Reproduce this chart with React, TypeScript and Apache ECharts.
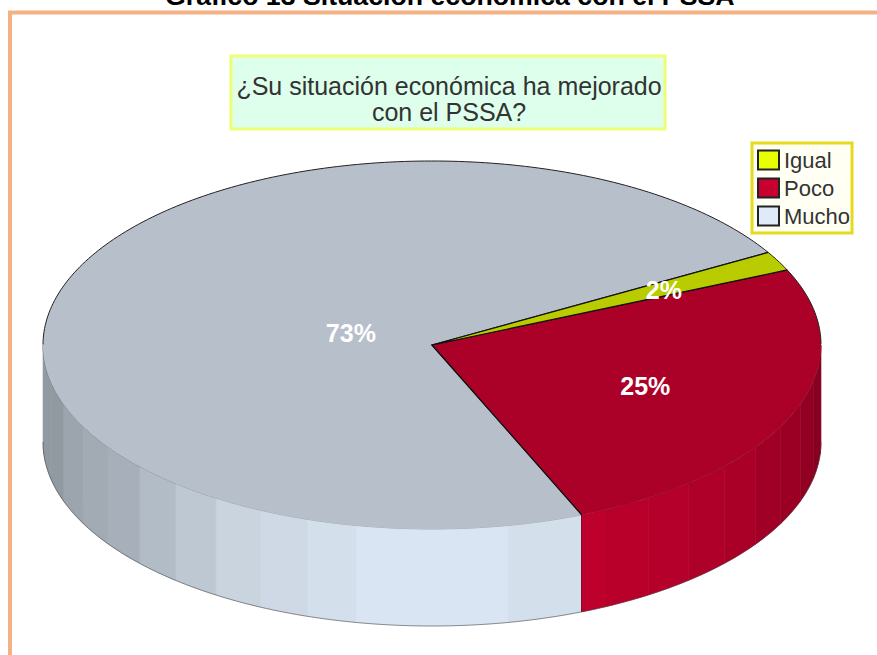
import React, { useEffect, useRef } from "react";
import * as echarts from "echarts";

const categories = ["Igual", "Poco", "Mucho"];
const shares = [1.7, 25.4, 72.9];
const percentLabels = ["2%", "25%", "73%"];
const legendColors = ["#E7FF00", "#C8002F", "#DFEBF8"];
const topColors = ["#B8CC00", "#AB0028", "#B7BFCB"];
const chartTitle = "Gráfico 13 Situación económica con el PSSA";
const question = "¿Su situación económica ha mejorado\ncon el PSSA?";

const CX = 432;
const CY = 345;
const RX = 389;
const RY = 184;
const DEPTH = 97;
const START_DEG = 30.2;
const STRIP = 7.5;
const LABEL_FRACTION = [0.67, 0.59, 0.22];

const rad = (d: number) => (d * Math.PI) / 180;
const ex = (d: number) => CX + RX * Math.cos(rad(d));
const ey = (d: number) => CY - RY * Math.sin(rad(d));

function shade(hex: string, f: number) {
  const n = parseInt(hex.slice(1), 16);
  const c = [(n >> 16) & 255, (n >> 8) & 255, n & 255].map((v) => Math.round(v * f));
  return `rgb(${c[0]},${c[1]},${c[2]})`;
}

function sliceRange(index: number) {
  const total = shares.reduce((a, b) => a + b, 0);
  const before = shares.slice(0, index).reduce((a, b) => a + b, 0);
  const from = START_DEG - (before / total) * 360;
  const to = from - (shares[index] / total) * 360;
  return { from, to };
}

function arcPoints(from: number, to: number) {
  const pts: number[][] = [];
  const n = Math.max(2, Math.ceil(Math.abs(from - to)));
  for (let i = 0; i <= n; i++) {
    const d = from + ((to - from) * i) / n;
    pts.push([ex(d), ey(d)]);
  }
  return pts;
}

function sideStrips(index: number) {
  const { from, to } = sliceRange(index);
  const out: any[] = [];
  const a = Math.min(from, 0);
  const b = Math.max(to, -180);
  if (a <= b) return out;
  let d = a;
  while (d > b + 1e-6) {
    const k = Math.floor((d + 90 - 1e-6) / STRIP + 0.5);
    const next = Math.max((k - 0.5) * STRIP - 90, b);
    const mid = (d + next) / 2;
    const s = Math.abs(Math.sin(rad(mid)));
    const lit = mid < -90 ? s * s : s;
    const f = Math.round((0.64 + 0.33 * lit) / 0.025) * 0.025;
    const topArc = arcPoints(d, next);
    const bottom = topArc.slice().reverse().map((p) => [p[0], p[1] + DEPTH]);
    const fill = shade(legendColors[index], f);
    out.push({
      type: "polygon",
      shape: { points: [...topArc, ...bottom] },
      style: { fill, stroke: fill, lineWidth: 0.6 },
    });
    d = next;
  }
  out.push({
    type: "polyline",
    shape: { points: arcPoints(a, b).map((p) => [p[0], p[1] + DEPTH]) },
    style: { fill: "none", stroke: "rgba(60,60,60,0.55)", lineWidth: 1 },
  });
  out.push({
    type: "polyline",
    shape: { points: arcPoints(a, b) },
    style: { fill: "none", stroke: "rgba(40,40,40,0.3)", lineWidth: 1 },
  });
  return out;
}

function renderSlice(index: number) {
  return () => {
    const { from, to } = sliceRange(index);
    const arc = arcPoints(from, to);
    const children: any[] = [
      ...sideStrips(index),
      {
        type: "polygon",
        shape: { points: [[CX, CY], ...arc] },
        style: { fill: topColors[index], stroke: "none" },
      },
    ];
    const upper = arc.filter((p) => p[1] <= CY + 0.01);
    if (upper.length > 1) {
      children.push({
        type: "polyline",
        shape: { points: upper },
        style: { fill: "none", stroke: "#222", lineWidth: 1 },
      });
    }
    children.push({
      type: "polyline",
      shape: { points: [[ex(from), ey(from)], [CX, CY], [ex(to), ey(to)]] },
      style: { fill: "none", stroke: "#111", lineWidth: 1.2 },
    });
    if (Math.sin(rad(from)) < 0) {
      children.push({
        type: "line",
        shape: { x1: ex(from), y1: ey(from), x2: ex(from), y2: ey(from) + DEPTH },
        style: { stroke: "#222", lineWidth: 1.5 },
      });
    }
    return { type: "group", children };
  };
}

function renderLabel(index: number) {
  return () => {
    const { from, to } = sliceRange(index);
    const mid = (from + to) / 2;
    const fr = LABEL_FRACTION[index];
    return {
      type: "text",
      style: {
        text: percentLabels[index],
        x: CX + fr * RX * Math.cos(rad(mid)),
        y: CY - fr * RY * Math.sin(rad(mid)) + 1,
        fill: "#fff",
        font: 'bold 25px "Liberation Sans", Arial, sans-serif',
        align: "center",
        verticalAlign: "middle",
      },
    };
  };
}

export default function App() {
  const ref = useRef<HTMLDivElement>(null);
  useEffect(() => {
    document.body.style.margin = "0";
    const chart = echarts.init(ref.current!, undefined, { renderer: "svg" });
    const font = '"Liberation Sans", Arial, sans-serif';
    const sliceOrder = [2, 1, 0];
    chart.setOption({
      animation: false,
      backgroundColor: "#fff",
      title: [
        {
          text: chartTitle,
          left: 165,
          top: -18,
          padding: 0,
          textStyle: { fontFamily: font, fontSize: 26.7, fontWeight: "bold", color: "#000" },
        },
        {
          text: question,
          left: 449,
          top: 73,
          padding: 0,
          textAlign: "center",
          textStyle: { fontFamily: font, fontSize: 25, fontWeight: "normal", color: "#333", lineHeight: 26 },
        },
      ],
      legend: {
        orient: "vertical",
        left: 752,
        top: 143,
        padding: [6, 2, 6, 5],
        itemWidth: 21,
        itemHeight: 19,
        itemGap: 6,
        icon: "rect",
        data: categories,
        backgroundColor: "#FFFFF3",
        borderColor: "#E6DA1E",
        borderWidth: 3,
        selectedMode: false,
        itemStyle: { borderColor: "#222", borderWidth: 2 },
        textStyle: { fontFamily: font, fontSize: 22, color: "#333" },
      },
      graphic: [
        {
          type: "polyline",
          z: 0,
          shape: { points: [[877, 12.5], [10, 12.5], [10, 655]] },
          style: { fill: "none", stroke: "#F4B183", lineWidth: 4 },
        },
        {
          type: "rect",
          z: 0,
          shape: { x: 231, y: 56, width: 434, height: 73 },
          style: { fill: "#DDFFEB", stroke: "#EEFF77", lineWidth: 3 },
        },
      ],
      series: [
        ...sliceOrder.map((i) => ({
          type: "custom",
          name: categories[i],
          coordinateSystem: "none",
          itemStyle: { color: legendColors[i] },
          data: [[shares[i]]],
          renderItem: renderSlice(i),
          silent: true,
          z: 2,
        })),
        ...sliceOrder.map((i) => ({
          type: "custom",
          coordinateSystem: "none",
          data: [[shares[i]]],
          renderItem: renderLabel(i),
          silent: true,
          z: 3,
        })),
      ],
    });
    return () => chart.dispose();
  }, []);
  return <div ref={ref} style={{ width: 877, height: 655 }} />;
}
